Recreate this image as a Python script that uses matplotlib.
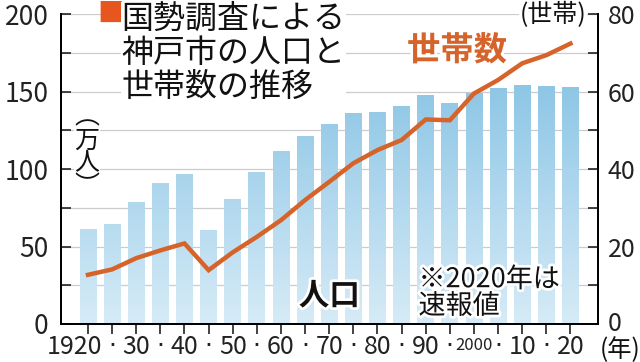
import numpy as np
import matplotlib
matplotlib.use("Agg")
import matplotlib.pyplot as plt
import matplotlib.patheffects as pe
import matplotlib.transforms as mtransforms
from matplotlib.colors import LinearSegmentedColormap

plt.rcParams['font.family'] = ['Noto Sans CJK JP', 'DejaVu Sans']

# 国勢調査の年
years = [1920, 1925, 1930, 1935, 1940, 1947, 1950, 1955, 1960, 1965, 1970,
         1975, 1980, 1985, 1990, 1995, 2000, 2005, 2010, 2015, 2020]
# 人口（万人）
population = [61, 64.5, 78.7, 91, 96.8, 60.6, 80.4, 98, 111.6, 121.5, 129,
              136, 136.6, 141, 148, 142.4, 149.3, 152.5, 154, 153.5, 153]
# 世帯数（万世帯）
households = [12.7, 14.1, 17, 19, 20.8, 13.9, 18.5, 22.5, 26.8, 32, 36.7,
              41.5, 44.9, 47.5, 52.8, 52.6, 59.5, 63, 67.3, 69.4, 72.4]
xlabels = ['1920', '·', '30', '·', '40', '·', '50', '·', '60', '·', '70',
           '·', '80', '·', '90', '·', '2000', '·', '10', '·', '20']

bar_top = '#78bbe0'
bar_bottom = '#d6ebf7'
line_color = '#d5632a'

fig = plt.figure(figsize=(6.4, 3.62), dpi=100)
ax = fig.add_axes([0.0953, 0.105, 0.839, 0.856])
ax2 = ax.twinx()

x = np.arange(len(years))
bars = ax.bar(x, population, width=0.7, color=bar_top, zorder=2)

# グラデーション
cmap = LinearSegmentedColormap.from_list('bar', [bar_bottom, bar_top])
grad = np.linspace(0, 1, 256).reshape(-1, 1)
for b in bars:
    bx = b.get_x()
    w = b.get_width()
    im = ax.imshow(grad, extent=[bx, bx + w, 0, 200], origin='lower',
                   cmap=cmap, aspect='auto', zorder=2.5)
    im.set_clip_path(b)

ax.set_xlim(-1.12, len(years) - 1 + 1.14)
ax.set_ylim(0, 200)
ax.set_yticks(np.arange(0, 201, 25))
ax.set_yticklabels([str(v) if v % 50 == 0 else '' for v in range(0, 201, 25)])
ax.yaxis.grid(True, color='#cccccc', linewidth=0.9, zorder=0)
ax.set_axisbelow(True)
ax.set_xticks(x)
ax.set_xticklabels(xlabels)

ax.tick_params(axis='y', direction='in', length=7, width=1.2, labelsize=19,
               pad=9, colors='#222222')
ax.tick_params(axis='x', direction='out', length=7, width=1.2, labelsize=18,
               pad=0, colors='#222222')
for lab in ax.get_xticklabels():
    t = lab.get_text()
    if t == '2000':
        lab.set_fontsize(12)
        lab.set_transform(lab.get_transform() + mtransforms.ScaledTranslation(
            0, -3 / 100, fig.dpi_scale_trans))
    elif t == '·':
        lab.set_family('DejaVu Sans')
    elif t == '1920':
        lab.set_transform(lab.get_transform() + mtransforms.ScaledTranslation(
            -14 / 100, 0, fig.dpi_scale_trans))

ax.spines['top'].set_visible(False)
ax2.spines['top'].set_visible(False)
for s in ['left', 'bottom', 'right']:
    ax.spines[s].set_linewidth(1.3)
    ax2.spines[s].set_linewidth(1.3)

ax2.plot(x, households, color=line_color, linewidth=3.2, zorder=5,
         solid_joinstyle='miter')
ax2.set_ylim(0, 80)
ax2.set_yticks(np.arange(0, 81, 10))
ax2.set_yticklabels([str(v) if v % 20 == 0 else '' for v in range(0, 81, 10)])
ax2.tick_params(axis='y', direction='in', length=7, width=1.2, labelsize=18,
                pad=7, colors='#222222')
for lab in ax2.get_yticklabels():
    if lab.get_text() == '0':
        lab.set_transform(lab.get_transform() + mtransforms.ScaledTranslation(
            0, 3 / 100, fig.dpi_scale_trans))

# タイトル
fig.text(0.152, 0.998, '■', color='#e8561f', fontsize=19, va='top', ha='left')
fig.text(0.19, 0.992, '国勢調査による\n神戸市の人口と\n世帯数の推移', fontsize=23,
         va='top', ha='left', linespacing=1.08, color='#111111',
         bbox=dict(facecolor='white', edgecolor='none', pad=0.5))

fig.text(0.916, 0.958, '(世帯)', fontsize=18, ha='right', va='center',
         color='#111111',
         bbox=dict(facecolor='white', edgecolor='none', pad=0.5))
fig.text(0.136, 0.58, '︵\n万\n人\n︶', fontsize=18, ha='center', va='center',
         linespacing=0.85, color='#111111',
         bbox=dict(facecolor='white', edgecolor='none', pad=0.5))

white = [pe.withStroke(linewidth=4, foreground='white')]
ax2.text(15.3, 70.5, '世帯数', fontsize=24, fontweight='bold', color=line_color,
         ha='center', va='center', path_effects=white)
ax.text(10, 18, '人口', fontsize=22, fontweight='bold', color='#111111',
        ha='center', va='center', path_effects=white, zorder=6)
ax.text(13.7, 20, '※2020年は\n速報値', fontsize=19.5, color='#111111',
        ha='left', va='center', linespacing=0.98, path_effects=white, zorder=6)

fig.text(1.0, 0.032, '(年)', fontsize=17.5, ha='right', va='center',
         color='#111111')

fig.savefig('out.png', dpi=100)
